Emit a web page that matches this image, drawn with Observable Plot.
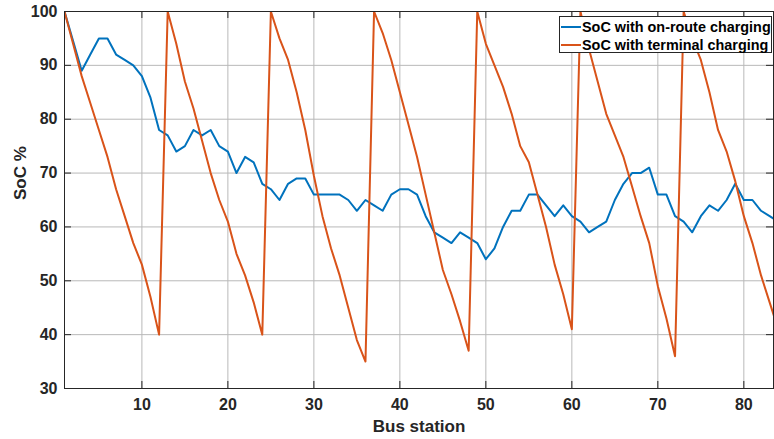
<!DOCTYPE html>
<html><head><meta charset="utf-8">
<script src="https://cdn.jsdelivr.net/npm/d3@7"></script>
<script src="https://cdn.jsdelivr.net/npm/@observablehq/plot@0.6"></script>
<style>
body{margin:0;background:#fff;}
#wrap{position:relative;width:774px;height:439px;font-family:"Liberation Sans",Arial,sans-serif;}
#legend{position:absolute;left:559px;top:16px;width:213px;height:37px;border:1px solid #262626;background:#fff;font-weight:bold;font-size:14.4px;color:#000;box-sizing:border-box;}
.row{position:absolute;left:0;height:18px;display:flex;align-items:center;white-space:nowrap;}
.sw{display:inline-block;width:20px;height:0;border-top:2px solid;margin-left:1px;margin-right:1px;}
</style></head>
<body><div id="wrap"><div id="legend"></div></div>
<script>
const seriesNames = ["SoC with on-route charging", "SoC with terminal charging"];
const seriesColors = ["#0072BD", "#D95319"];
const stations = [1,2,3,4,5,6,7,8,9,10,11,12,13,14,15,16,17,18,19,20,21,22,23,24,25,26,27,28,29,30,31,32,33,34,35,36,37,38,39,40,41,42,43,44,45,46,47,48,49,50,51,52,53,54,55,56,57,58,59,60,61,62,63,64,65,66,67,68,69,70,71,72,73,74,75,76,77,78,79,80,81,82,83,84];
const onRoute = [100,94.5,89,92,95,95,92,91,90,88,84,78,77,74,75,78,77,78,75,74,70,73,72,68,67,65,68,69,69,66,66,66,66,65,63,65,64,63,66,67,67,66,62,59,58,57,59,58,57,54,56,60,63,63,66,66,64,62,64,62,61,59,60,61,65,68,70,70,71,66,66,62,61,59,62,64,63,65,68,65,65,63,62,61];
const terminal = [100,94,88,83,78,73,67,62,57,53,47,40,100,94,87,82,76,70,65,61,55,51,46,40,100,95,91,85,78,69.5,62,56,51,45,39,35,100,96,91,85,79,73,66,59,52,47.5,42.5,37,100,94,90,86,81,75,72,66,60,53,47.5,41,100,93,87,81,77,73,67.5,62,57,49,43,36,100,95,91,85,78,74,68.5,62,57,51,46,41];
const xTicks = [10,20,30,40,50,60,70,80];
const yTicks = [30,40,50,60,70,80,90,100];
const xDomain = [1, 83.45];
const yDomain = [30, 100];

const W = 774, H = 439, mL = 64, mR = 1, mT = 11, mB = 51;
const plotW = W - mL - mR, plotH = H - mT - mB;
const data = [
  ...stations.map((s, i) => ({station: s, soc: onRoute[i], series: seriesNames[0]})),
  ...stations.map((s, i) => ({station: s, soc: terminal[i], series: seriesNames[1]}))
];
const axisCol = "#262626", gridCol = "#b9b9b9";
const chart = Plot.plot({
  width: W, height: H, marginLeft: mL, marginRight: mR, marginTop: mT, marginBottom: mB,
  x: {domain: xDomain},
  y: {domain: yDomain},
  color: {domain: seriesNames, range: seriesColors},
  style: {fontFamily: '"Liberation Sans", Arial, sans-serif', fontSize: "16px", fontWeight: "bold", color: axisCol, background: "white"},
  marks: [
    Plot.gridX(xTicks, {stroke: gridCol, strokeOpacity: 1}),
    Plot.gridY(yTicks, {stroke: gridCol, strokeOpacity: 1}),
    Plot.line(data, {x: "station", y: "soc", stroke: "series", z: "series", strokeWidth: 2, clip: true}),
    Plot.tickX(xTicks, {x: d => d, insetTop: plotH - 7, stroke: axisCol}),
    Plot.tickX(xTicks, {x: d => d, insetBottom: plotH - 7, stroke: axisCol}),
    Plot.tickY(yTicks, {y: d => d, insetLeft: plotW - 7, stroke: axisCol}),
    Plot.tickY(yTicks, {y: d => d, insetRight: plotW - 7, stroke: axisCol}),
    Plot.frame({stroke: axisCol}),
    Plot.axisX({ticks: xTicks, tickSize: 0, tickPadding: 10, label: null, fontSize: 16, fontWeight: "bold"}),
    Plot.axisY({ticks: yTicks, tickSize: 0, tickPadding: 7, label: null, fontSize: 16, fontWeight: "bold"}),
    Plot.text(["Bus station"], {frameAnchor: "bottom", dy: 43, fontSize: 17, fontWeight: "bold", fill: axisCol}),
    Plot.text(["SoC %"], {frameAnchor: "left", dx: -44, rotate: -90, fontSize: 17, fontWeight: "bold", fill: axisCol})
  ]
});
const wrap = document.getElementById("wrap");
wrap.insertBefore(chart, wrap.firstChild);
const legend = document.getElementById("legend");
seriesNames.forEach((name, i) => {
  const row = document.createElement("div");
  row.className = "row";
  row.style.top = (i === 0 ? 1 : 19) + "px";
  const sw = document.createElement("span");
  sw.className = "sw";
  sw.style.borderTopColor = seriesColors[i];
  const tx = document.createElement("span");
  tx.textContent = name;
  row.appendChild(sw); row.appendChild(tx);
  legend.appendChild(row);
});
</script></body></html>
